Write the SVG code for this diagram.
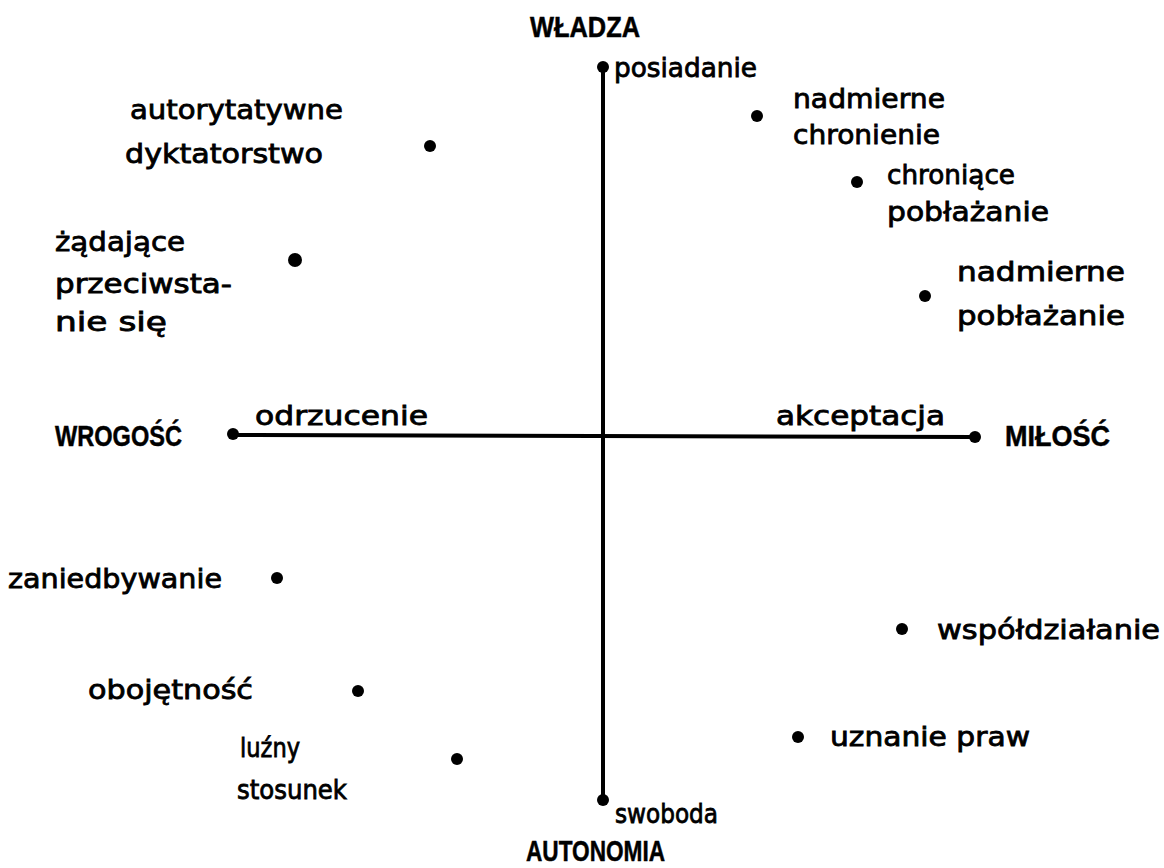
<svg xmlns="http://www.w3.org/2000/svg" width="1164" height="868" viewBox="0 0 1164 868">
<style>
text{font-family:"DejaVu Sans","Liberation Sans",sans-serif;font-size:26px;fill:#000;stroke:#000;stroke-width:0.8}
.b{font-family:"Liberation Sans","DejaVu Sans",sans-serif;font-weight:bold;font-size:30px;stroke-width:0.5}
.dot{fill:#000}
.ax{stroke:#000;stroke-width:4;fill:none;stroke-linecap:round}
</style>
<rect width="1164" height="868" fill="#fff"/>
<g id="axes">
<line class="ax" x1="603" y1="67" x2="603" y2="800"/>
<line class="ax" x1="233" y1="435" x2="975" y2="437"/>
<circle class="dot" cx="603" cy="67" r="6"/>
<circle class="dot" cx="603" cy="800" r="6"/>
<circle class="dot" cx="233" cy="434" r="6"/>
<circle class="dot" cx="975" cy="437" r="6"/>
</g>
<g id="axis-labels">
<text class="b" x="530" y="37" textLength="110" lengthAdjust="spacingAndGlyphs">WŁADZA</text>
<text x="614" y="77" textLength="143" lengthAdjust="spacingAndGlyphs">posiadanie</text>
<text class="b" x="55" y="446" textLength="127" lengthAdjust="spacingAndGlyphs">WROGOŚĆ</text>
<text x="255" y="425" textLength="173" lengthAdjust="spacingAndGlyphs">odrzucenie</text>
<text x="776" y="425" textLength="169" lengthAdjust="spacingAndGlyphs">akceptacja</text>
<text class="b" x="1005" y="446" textLength="105" lengthAdjust="spacingAndGlyphs">MIŁOŚĆ</text>
<text x="615" y="823" textLength="103" lengthAdjust="spacingAndGlyphs">swoboda</text>
<text class="b" x="526" y="861" textLength="139" lengthAdjust="spacingAndGlyphs">AUTONOMIA</text>
</g>
<g id="n-autorytatywne">
<circle class="dot" cx="430" cy="146" r="6"/>
<text x="130" y="119" textLength="213" lengthAdjust="spacingAndGlyphs">autorytatywne</text>
<text x="125" y="163" textLength="198" lengthAdjust="spacingAndGlyphs">dyktatorstwo</text>
</g>
<g id="n-nadmierne-chronienie">
<circle class="dot" cx="757" cy="116" r="6"/>
<text x="793" y="108" textLength="152" lengthAdjust="spacingAndGlyphs">nadmierne</text>
<text x="793" y="144" textLength="147" lengthAdjust="spacingAndGlyphs">chronienie</text>
</g>
<g id="n-chroniace">
<circle class="dot" cx="857" cy="182" r="6"/>
<text x="887" y="184" textLength="128" lengthAdjust="spacingAndGlyphs">chroniące</text>
<text x="887" y="221" textLength="162" lengthAdjust="spacingAndGlyphs">pobłażanie</text>
</g>
<g id="n-zadajace">
<circle class="dot" cx="295" cy="260" r="7"/>
<text x="55" y="251" textLength="130" lengthAdjust="spacingAndGlyphs">żądające</text>
<text x="55" y="293" textLength="177" lengthAdjust="spacingAndGlyphs">przeciwsta-</text>
<text x="55" y="331" textLength="112" lengthAdjust="spacingAndGlyphs">nie się</text>
</g>
<g id="n-nadmierne-poblazanie">
<circle class="dot" cx="925" cy="296" r="6"/>
<text x="957" y="281" textLength="168" lengthAdjust="spacingAndGlyphs">nadmierne</text>
<text x="957" y="325" textLength="168" lengthAdjust="spacingAndGlyphs">pobłażanie</text>
</g>
<g id="n-zaniedbywanie">
<circle class="dot" cx="277" cy="578" r="6"/>
<text x="8" y="588" textLength="214" lengthAdjust="spacingAndGlyphs">zaniedbywanie</text>
</g>
<g id="n-wspoldzialanie">
<circle class="dot" cx="902" cy="629" r="6"/>
<text x="937" y="639" textLength="223" lengthAdjust="spacingAndGlyphs">współdziałanie</text>
</g>
<g id="n-obojetnosc">
<circle class="dot" cx="358" cy="691" r="6"/>
<text x="88" y="699" textLength="165" lengthAdjust="spacingAndGlyphs">obojętność</text>
</g>
<g id="n-uznanie">
<circle class="dot" cx="798" cy="737" r="6"/>
<text x="830" y="746" textLength="200" lengthAdjust="spacingAndGlyphs">uznanie praw</text>
</g>
<g id="n-luzny">
<circle class="dot" cx="457" cy="759" r="6"/>
<text x="240" y="757" textLength="60" lengthAdjust="spacingAndGlyphs">luźny</text>
<text x="237" y="799" textLength="110" lengthAdjust="spacingAndGlyphs">stosunek</text>
</g>
</svg>
